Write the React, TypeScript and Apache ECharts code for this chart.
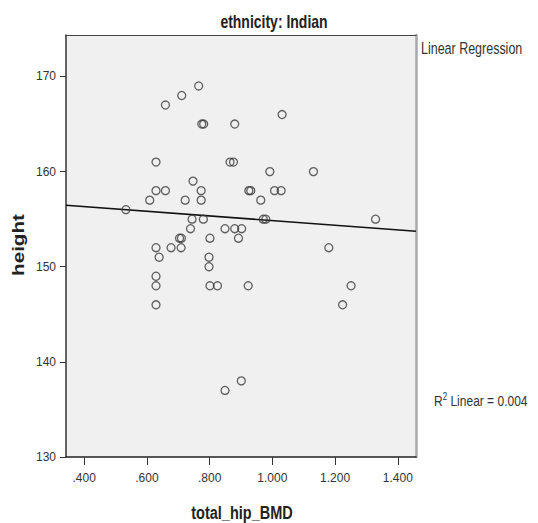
import React, { useEffect, useRef } from "react";
import * as echarts from "echarts";

// Data (total_hip_BMD vs height, ethnicity: Indian)
const bmd = [
  0.765, 0.711, 0.659, 0.775, 0.781, 0.88, 1.031, 0.629, 0.865, 0.876, 0.747,
  0.629, 0.659, 0.773, 0.925, 0.931, 1.007, 1.028, 0.992, 1.131, 0.609, 0.722,
  0.773, 0.963, 0.533, 0.744, 0.78, 0.971, 0.979, 1.329, 0.739, 0.849, 0.88,
  0.902, 0.704, 0.71, 0.801, 0.892, 0.629, 0.677, 0.709, 1.18, 0.639, 0.798,
  0.798, 0.629, 0.629, 0.801, 0.825, 0.923, 1.251, 0.629, 1.224, 0.849, 0.901,
];
const height = [
  169, 168, 167, 165, 165, 165, 166, 161, 161, 161, 159, 158, 158, 158, 158, 158,
  158, 158, 160, 160, 157, 157, 157, 157, 156, 155, 155, 155, 155, 155, 154, 154,
  154, 154, 153, 153, 153, 153, 152, 152, 152, 152, 151, 151, 150, 149, 148, 148,
  148, 148, 148, 146, 146, 137, 138,
];
const xTicks = [0.4, 0.6, 0.8, 1.0, 1.2, 1.4];
const yTicks = [130, 140, 150, 160, 170];
const xRange = [0.342, 1.458];
const yRange = [130, 174.36];
// Fit line coefficients (height = intercept + slope * BMD)
const fitIntercept = 157.32;
const fitSlope = -2.47;
const rSquared = "0.004";
const titleText = "ethnicity: Indian";
const xName = "total_hip_BMD";
const yName = "height";
const legendText = "Linear Regression";

const FONT = '"Liberation Sans", Arial, sans-serif';
const STRETCH = 1.25;

function fmtX(v: number): string {
  const s = v.toFixed(3);
  return v < 1 ? s.slice(1) : s;
}

export default function App() {
  const ref = useRef<HTMLDivElement>(null);
  useEffect(() => {
    document.body.style.margin = "0";
    if (!ref.current) return;
    const chart = echarts.init(ref.current, null, { renderer: "svg" });
    const points = bmd.map((x, i) => [x, height[i]]);
    const fit = xRange.map((x) => [x, fitIntercept + fitSlope * x]);
    chart.setOption({
      animation: false,
      backgroundColor: "#ffffff",
      grid: {
        left: 66,
        right: 122,
        top: 35,
        bottom: 66,
        show: true,
        backgroundColor: "#f0f0f0",
        borderWidth: 0,
      },
      xAxis: [
        {
          type: "value",
          min: xRange[0],
          max: xRange[1],
          position: "bottom",
          axisLine: { show: true, onZero: false, lineStyle: { color: "#222", width: 1.5 } },
          axisTick: { show: true, length: 8, customValues: xTicks, lineStyle: { color: "#333" } },
          axisLabel: {
            customValues: xTicks,
            formatter: (v: number) => fmtX(v),
            margin: 15,
            fontFamily: FONT,
            fontSize: 12,
            color: "#333",
          },
          splitLine: { show: false },
        },
        {
          type: "value",
          min: xRange[0],
          max: xRange[1],
          position: "top",
          axisLine: { show: true, onZero: false, lineStyle: { color: "#444", width: 1.2 } },
          axisTick: { show: false },
          axisLabel: { show: false },
          splitLine: { show: false },
        },
      ],
      yAxis: [
        {
          type: "value",
          min: yRange[0],
          max: yRange[1],
          position: "left",
          axisLine: { show: true, onZero: false, lineStyle: { color: "#333", width: 1.5 } },
          axisTick: { show: true, length: 6, customValues: yTicks, lineStyle: { color: "#333" } },
          axisLabel: {
            customValues: yTicks,
            margin: 10,
            fontFamily: FONT,
            fontSize: 12,
            color: "#333",
          },
          splitLine: { show: false },
        },
        {
          type: "value",
          min: yRange[0],
          max: yRange[1],
          position: "right",
          axisLine: { show: true, onZero: false, lineStyle: { color: "#a8a8a8", width: 2.5 } },
          axisTick: { show: false },
          axisLabel: { show: false },
          splitLine: { show: false },
        },
      ],
      graphic: [
        {
          type: "text",
          x: 274,
          y: 22,
          scaleY: STRETCH,
          style: {
            text: titleText,
            fontFamily: FONT,
            fontWeight: "bold",
            fontSize: 14,
            fill: "#222",
            textAlign: "center",
            textVerticalAlign: "middle",
          },
        },
        {
          type: "text",
          x: 242,
          y: 512,
          scaleY: STRETCH,
          style: {
            text: xName,
            fontFamily: FONT,
            fontWeight: "bold",
            fontSize: 14.5,
            fill: "#222",
            textAlign: "center",
            textVerticalAlign: "middle",
          },
        },
        {
          type: "text",
          x: 18,
          y: 245,
          rotation: Math.PI / 2,
          scaleX: STRETCH,
          style: {
            text: yName,
            fontFamily: FONT,
            fontWeight: "bold",
            fontSize: 16.5,
            fill: "#222",
            textAlign: "center",
            textVerticalAlign: "middle",
          },
        },
        {
          type: "text",
          x: 421,
          y: 48,
          scaleY: STRETCH,
          style: {
            text: legendText,
            fontFamily: FONT,
            fontSize: 12.5,
            fill: "#333",
            textAlign: "left",
            textVerticalAlign: "middle",
          },
        },
        {
          type: "text",
          x: 434,
          y: 400,
          scaleY: STRETCH,
          style: {
            text: "{a|R}{s|2}{a| Linear = " + rSquared + "}",
            fill: "#333",
            textAlign: "left",
            textVerticalAlign: "middle",
            rich: {
              a: { fontFamily: FONT, fontSize: 12, fill: "#333", verticalAlign: "bottom" },
              s: { fontFamily: FONT, fontSize: 8, fill: "#333", verticalAlign: "top", padding: [0, 0, 6, 0] },
            },
          },
        },
      ],
      series: [
        {
          type: "scatter",
          xAxisIndex: 0,
          yAxisIndex: 0,
          data: points,
          symbol: "circle",
          symbolSize: 8,
          itemStyle: { color: "rgba(0,0,0,0)", borderColor: "#3a3a3a", borderWidth: 1.3 },
          z: 3,
        },
        {
          type: "line",
          xAxisIndex: 0,
          yAxisIndex: 0,
          data: fit,
          symbol: "none",
          lineStyle: { color: "#111", width: 1.5 },
          z: 2,
        },
      ],
    });
    return () => chart.dispose();
  }, []);
  return <div ref={ref} style={{ width: 538, height: 523 }} />;
}
